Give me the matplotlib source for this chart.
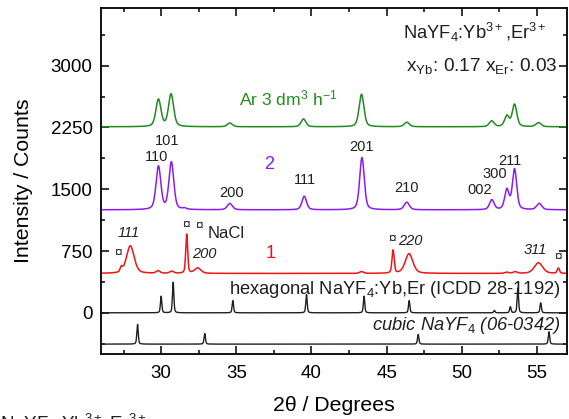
import numpy as np
import matplotlib
matplotlib.use("Agg")
import matplotlib.pyplot as plt
from matplotlib.ticker import MultipleLocator

plt.rcParams['font.family'] = ['Liberation Sans', 'DejaVu Sans']
plt.rcParams['mathtext.fontset'] = 'custom'
plt.rcParams['mathtext.rm'] = 'Liberation Sans'
plt.rcParams['mathtext.it'] = 'Liberation Sans:italic'

# ---- peak tables (2theta position, height above baseline, FWHM) ----
ar_base = 2258
ar_pos = [29.82, 30.66, 34.57, 39.47, 43.33, 46.34, 51.99, 53.00, 53.51, 55.10]
ar_hgt = [330, 395, 45, 95, 395, 55, 70, 130, 270, 50]
ar_fwhm = [0.4, 0.4, 0.4, 0.38, 0.38, 0.4, 0.38, 0.36, 0.36, 0.4]

s2_base = 1250
s2_pos = [29.82, 30.68, 31.55, 34.57, 39.52, 43.36, 46.34, 52.00, 53.00, 53.51, 55.15]
s2_hgt = [525, 575, 15, 76, 165, 635, 92, 120, 240, 490, 76]
s2_fwhm = [0.38, 0.38, 0.3, 0.4, 0.36, 0.36, 0.4, 0.36, 0.34, 0.34, 0.4]

s1_base = 478
s1_pos = [27.35, 27.95, 29.80, 30.70, 31.70, 32.43, 43.33, 45.43, 46.49, 53.00, 53.55, 55.10, 56.42]
s1_hgt = [55, 335, 30, 25, 475, 65, 22, 280, 240, 14, 20, 130, 64]
s1_fwhm = [0.18, 0.6, 0.3, 0.3, 0.15, 0.5, 0.3, 0.17, 0.6, 0.3, 0.3, 0.65, 0.17]

hex_base = 0
hex_pos = [30.00, 30.80, 34.77, 39.67, 43.50, 46.50, 52.17, 53.23, 53.73, 55.25]
hex_hgt = [202, 371, 149, 222, 202, 149, 28, 73, 300, 121]

cub_base = -380
cub_pos = [28.43, 32.90, 47.10, 55.80]
cub_hgt = [240, 128, 118, 150]

tt = np.linspace(26, 57, 6201)


def profile(pos, hgt, fwhm, base):
    y = np.full_like(tt, float(base))
    for p, h, w in zip(pos, hgt, fwhm):
        g = np.exp(-4 * np.log(2) * ((tt - p) / w) ** 2)
        l = 1.0 / (1.0 + 4 * ((tt - p) / w) ** 2)
        y += h * (0.6 * g + 0.4 * l)
    return y


fig = plt.figure(figsize=(5.69, 4.19), dpi=100)
ax = fig.add_axes([101 / 569, 65 / 419, 466 / 569, 346 / 419])

green = '#1f8c1f'
purple = '#8a1cf0'
red = '#f01414'
ink = '#202020'

ax.plot(tt, profile(ar_pos, ar_hgt, ar_fwhm, ar_base), color=green, lw=1.1)
ax.plot(tt, profile(s2_pos, s2_hgt, s2_fwhm, s2_base), color=purple, lw=1.1)
ax.plot(tt, profile(s1_pos, s1_hgt, s1_fwhm, s1_base), color=red, lw=1.1)
ax.plot(tt, profile(hex_pos, hex_hgt, [0.11] * len(hex_pos), hex_base), color=ink, lw=1.0)
ax.plot(tt, profile(cub_pos, cub_hgt, [0.11] * len(cub_pos), cub_base), color=ink, lw=1.0)

ax.set_xlim(26, 57)
ax.set_ylim(-500, 3700)
ax.xaxis.set_major_locator(MultipleLocator(5))
ax.xaxis.set_minor_locator(MultipleLocator(2.5))
ax.yaxis.set_minor_locator(MultipleLocator(375))
ax.set_yticks([0, 750, 1500, 2250, 3000])
ax.tick_params(which='both', direction='in', top=True, right=True, width=1.1, labelsize=13.5)
ax.tick_params(which='major', length=5.5)
ax.tick_params(which='minor', length=3)
ax.tick_params(axis='x', pad=8)
ax.tick_params(axis='y', pad=6)
for sp in ax.spines.values():
    sp.set_linewidth(1.3)

ax.set_xlabel('2θ / Degrees', fontsize=15.3, labelpad=10)
ax.set_ylabel('Intensity / Counts', fontsize=15.3, labelpad=13)

# sample labels
ax.text(35.17, 2600, 'Ar 3 dm$^3$ h$^{-1}$', color=green, fontsize=12.6, ha='left', va='center')
ax.text(37.2, 1805, '2', color=purple, fontsize=13, ha='center', va='center')
ax.text(37.3, 725, '1', color=red, fontsize=13, ha='center', va='center')

# hexagonal reflections
hk = dict(fontsize=10.5, ha='center', va='center', color=ink)
for x, y, t in [(30.42, 2085, '101'), (29.69, 1895, '110'), (34.71, 1450, '200'),
                (39.56, 1612, '111'), (43.36, 2016, '201'), (46.34, 1511, '210'),
                (51.19, 1490, '002'), (52.19, 1681, '300'), (53.18, 1843, '211')]:
    ax.text(x, y, t, **hk)

# cubic and NaCl reflections on sample 1
ik = dict(fontsize=10.5, ha='center', va='center', style='italic', color=ink)
ax.text(27.83, 965, '111', **ik)
ax.text(32.9, 712, '200', **ik)
ax.text(46.6, 875, '220', **ik)
ax.text(54.88, 762, '311', **ik)
sk = dict(fontsize=10, ha='center', va='center', color=ink)
for x, y in [(27.17, 722), (31.66, 1066), (32.52, 1054), (45.38, 892), (56.42, 681)]:
    ax.text(x, y, '¤', **sk)
ax.text(34.35, 957, 'NaCl', fontsize=12, ha='center', va='center', color=ink)

# reference patterns
ax.text(56.56, 277, 'hexagonal NaYF$_4$:Yb,Er (ICDD 28-1192)', fontsize=13.2,
        ha='right', va='center', color=ink)
ax.text(56.56, -160, 'cubic NaYF$_{\\mathit{4}}$ (06-0342)', fontsize=13.2,
        ha='right', va='center', style='italic', color=ink)

# composition
ax.text(0.957, 0.928, 'NaYF$_4$:Yb$^{3+}$,Er$^{3+}$', transform=ax.transAxes,
        fontsize=13.2, ha='right', va='center', color=ink)
ax.text(0.9785, 0.833, 'x$_{\\mathrm{Yb}}$: 0.17 x$_{\\mathrm{Er}}$: 0.03', transform=ax.transAxes,
        fontsize=13.7, ha='right', va='center', color=ink)

fig.text(0.0, 1 - 412 / 419, 'NaYF$_4$:Yb$^{3+}$,Er$^{3+}$', fontsize=13.5, ha='left', va='top',
         color=ink)

fig.savefig('out.png', dpi=100)
